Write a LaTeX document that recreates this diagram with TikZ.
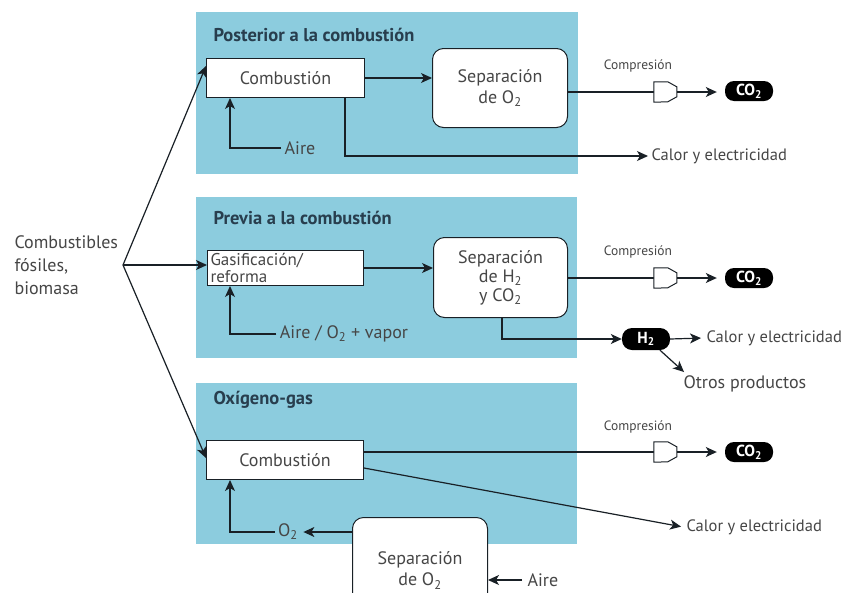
\documentclass[tikz,border=0pt]{standalone}
\usepackage{fontspec}
\setmainfont{PT Sans}
\usetikzlibrary{arrows.meta,calc}
\definecolor{panel}{RGB}{140,204,222}
\definecolor{ink}{RGB}{70,70,70}
\definecolor{ttlc}{RGB}{40,62,78}
\definecolor{linec}{RGB}{25,32,38}
\begin{document}
\begin{tikzpicture}[x=1pt,y=-1pt,
  every node/.style={font=\fontsize{18}{21}\selectfont, text=ink},
  arr/.style={draw=linec, line width=1.2pt, -{Stealth[length=11pt,width=10pt,inset=3pt]}},
  ln/.style={draw=linec, line width=1.2pt},
  panelbox/.style={fill=panel, draw=none, anchor=north west, inner sep=0pt},
  ttl/.style={anchor=west, font=\bfseries\fontsize{18.5}{21}\selectfont, text=ttlc},
  sq/.style={draw=linec, fill=white, line width=1pt, inner sep=0pt, anchor=north west},
  rd/.style={sq, rounded corners=11pt, align=center, font=\fontsize{18}{21}\selectfont},
  pill/.style={fill=black, rounded corners=9pt, text=white, inner sep=0pt,
    minimum width=48pt, minimum height=20pt, font=\bfseries\fontsize{16}{18}\selectfont},
  comp/.style={minimum width=23pt, minimum height=20pt, inner sep=0pt},
  small/.style={font=\fontsize{13.5}{15}\selectfont, text=ink},
  calor/.style={anchor=west, font=\fontsize{16.5}{19}\selectfont}
]
\clip (0,0) rectangle (864,592);
\fill[white] (0,0) rectangle (864,592);

% panels
\node[panelbox, minimum width=382pt, minimum height=162pt] (p1) at (196,12) {};
\node[panelbox, minimum width=381pt, minimum height=161pt] (p2) at (196,197) {};
\node[panelbox, minimum width=381pt, minimum height=161pt] (p3) at (196,383) {};

% titles
\node[ttl] (t1) at (210,35) {Posterior a la combustión};
\node[ttl] (t2) at (210,218) {Previa a la combustión};
\node[ttl] (t3) at (210,400) {Oxígeno-gas};

% source
\node[anchor=north west, align=left, font=\fontsize{18}{23}\selectfont] (src) at (11,232) {Combustibles\\fósiles,\\biomasa};
\coordinate (fork) at (123,265);

% ---------- panel 1
\node[sq, minimum width=158pt, minimum height=39pt] (comb1) at (206,58) {Combustión};
\node[rd, minimum width=135pt, minimum height=79pt] (sep1) at (432,48) {Separación\\de O\textsubscript{2}};
\node (aire1) at (300,148) {Aire};
\node[calor] (calor1) at (648,156) {Calor y electricidad};
\node[comp] (c1) at (665.5,92) {};
\node[pill] (co2a) at (749,91) {CO\textsubscript{2}};
\node[small] (cp1) at (638,66) {Compresión};

\draw[arr] (comb1.east) -- (comb1.east -| sep1.west);
\draw[arr] (aire1.west) -| ($(comb1.south west)+(24,0)$);
\draw[arr] ($(comb1.south west)+(139,0)$) |- (calor1.west);
\draw[ln] (sep1.east |- c1.west) -- (c1.west);
\draw[arr, shorten >=8pt] (c1.east) -- (co2a.west |- c1.east);

% ---------- panel 2
\node[sq, minimum width=156pt, minimum height=35pt, text width=150pt, align=left,
  font=\fontsize{17}{17}\selectfont, inner xsep=3pt] (gas) at (207,250) {Gasificación/\\reforma};
\node[rd, minimum width=134pt, minimum height=80pt, font=\fontsize{18}{19}\selectfont] (sep2) at (433,237) {Separación\\de H\textsubscript{2}\\y CO\textsubscript{2}};
\node (aire2) at (344,334) {Aire / O\textsubscript{2} + vapor};
\node[comp] (c2) at (665.5,278) {};
\node[pill] (co2b) at (749,278) {CO\textsubscript{2}};
\node[small] (cp2) at (638,252) {Compresión};
\node[pill, minimum height=22pt, rounded corners=10pt] (h2) at (646,339) {H\textsubscript{2}};
\node[calor] (calor2) at (703,338) {Calor y electricidad};
\node[anchor=north west] (otros) at (680,372) {Otros productos};

\draw[arr] (gas.east) -- (gas.east -| sep2.west);
\draw[arr] (aire2.west) -| ($(gas.south west)+(23,0)$);
\draw[ln] (sep2.east |- c2.west) -- (c2.west);
\draw[arr, shorten >=8pt] (c2.east) -- (co2b.west |- c2.east);
\draw[arr] ($(sep2.south west)+(69,0)$) |- (h2.west);
\draw[arr, shorten >=2pt] (h2.east) -- (calor2.west);
\draw[arr] ($(h2.south)+(14,0)$) -- ($(otros.north west)+(4,0)$);

% ---------- panel 3
\node[sq, minimum width=157pt, minimum height=39pt] (comb3) at (206,440) {Combustión};
\node[rd, minimum width=135pt, minimum height=106pt] (sep3) at (352,517) {Separación\\de O\textsubscript{2}};
\node (o2) at (288,532) {O\textsubscript{2}};
\node[anchor=west] (aire3) at (524,580) {Aire};
\node[comp] (c3) at (665.5,452) {};
\node[pill] (co2c) at (749,452) {CO\textsubscript{2}};
\node[small] (cp3) at (638,427) {Compresión};
\node[calor] (calor3) at (683,527) {Calor y electricidad};

\draw[ln] ($(comb3.north east)+(0,12)$) -- (c3.west);
\draw[arr, shorten >=8pt] (c3.east) -- (co2c.west |- c3.east);
\draw[arr, shorten >=2pt] ($(comb3.north east)+(0,28)$) -- (calor3.west);
\draw[arr] (o2.west) -| ($(comb3.south west)+(24,0)$);
\draw[arr, shorten >=2pt] (sep3.west |- o2.east) -- (o2.east);
\draw[arr, shorten <=2pt] (aire3.west) -- (sep3.east |- aire3.west);

% source arrows
\draw[arr] (fork) -- ($(comb1.north west)+(0,8)$);
\draw[arr] (fork) -- (fork -| gas.west);
\draw[arr] (fork) -- ($(comb3.north west)+(0,18)$);

% compressors
\foreach \c in {c1,c2,c3}{
  \draw[draw=linec, line width=1pt, fill=white]
    (\c.north west) -- ++(14,0) -- ++(9,5) -- ++(0,10) -- ++(-9,5) -- (\c.south west) -- cycle;
}
\end{tikzpicture}
\end{document}
